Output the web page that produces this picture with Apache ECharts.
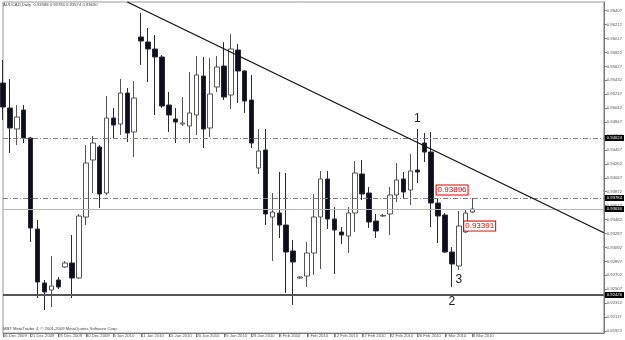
<!DOCTYPE html>
<html lang="en">
  <head>
    <meta charset="UTF-8" />
    <title>AUDCAD,Daily</title>
    <script src="https://cdn.jsdelivr.net/npm/echarts@6.0.0/dist/echarts.min.js"></script>
    <style>
      html, body { margin: 0; padding: 0; background: #fff; }
      #main { width: 625px; height: 340px; }
    </style>
  </head>
  <body>
    <div id="main"></div>
    <script>
      // daily bars (broker sends Sunday bars too)
      const dates = [
        "16 Dec 2009", "17 Dec 2009", "18 Dec 2009", "20 Dec 2009", "21 Dec 2009", "22 Dec 2009",
        "23 Dec 2009", "24 Dec 2009", "25 Dec 2009", "27 Dec 2009", "28 Dec 2009", "29 Dec 2009",
        "30 Dec 2009", "31 Dec 2009", "3 Jan 2010", "4 Jan 2010", "5 Jan 2010", "6 Jan 2010",
        "7 Jan 2010", "8 Jan 2010", "11 Jan 2010", "12 Jan 2010", "13 Jan 2010", "14 Jan 2010",
        "15 Jan 2010", "17 Jan 2010", "18 Jan 2010", "19 Jan 2010", "20 Jan 2010", "21 Jan 2010",
        "22 Jan 2010", "24 Jan 2010", "25 Jan 2010", "26 Jan 2010", "27 Jan 2010", "28 Jan 2010",
        "29 Jan 2010", "31 Jan 2010", "1 Feb 2010", "2 Feb 2010", "3 Feb 2010", "4 Feb 2010",
        "5 Feb 2010", "7 Feb 2010", "8 Feb 2010", "9 Feb 2010", "10 Feb 2010", "11 Feb 2010",
        "12 Feb 2010", "14 Feb 2010", "15 Feb 2010", "16 Feb 2010", "17 Feb 2010", "18 Feb 2010",
        "19 Feb 2010", "21 Feb 2010", "22 Feb 2010", "23 Feb 2010", "24 Feb 2010", "25 Feb 2010",
        "26 Feb 2010", "28 Feb 2010", "1 Mar 2010", "2 Mar 2010", "3 Mar 2010", "4 Mar 2010",
        "5 Mar 2010", "7 Mar 2010", "8 Mar 2010"
      ];

      const opens = [
        0.95394, 0.95044, 0.9475, 0.95016, 0.94624, 0.9335, 0.92594, 0.92496, 0.92636, 0.92818,
        0.92874, 0.92664, 0.93518, 0.94316, 0.94498, 0.93854, 0.94904, 0.9482, 0.95254, 0.94708,
        0.96038, 0.95968, 0.9587, 0.95758, 0.95086, 0.9489, 0.9482, 0.94792, 0.94946, 0.95492,
        0.94764, 0.95338, 0.95632, 0.95226, 0.95856, 0.95562, 0.95156, 0.94204, 0.94456, 0.93518,
        0.93574, 0.93406, 0.93042, 0.92664, 0.92692, 0.93014, 0.93518, 0.9405, 0.9349, 0.93308,
        0.93252, 0.93574, 0.9412, 0.93854, 0.93462, 0.93532, 0.9356, 0.93826, 0.9405, 0.93896,
        0.94176, 0.94554, 0.94428, 0.93714, 0.93546, 0.93028, 0.92832, 0.93308, 0.93588
      ];
      const closes = [
        0.95058, 0.94764, 0.94918, 0.94624, 0.93364, 0.92608, 0.92468, 0.92552, 0.92538, 0.92874,
        0.92664, 0.93532, 0.94274, 0.94554, 0.9384, 0.94904, 0.94806, 0.95254, 0.94694, 0.95184,
        0.95982, 0.9587, 0.95758, 0.95072, 0.94946, 0.94848, 0.94834, 0.94974, 0.95506, 0.9475,
        0.9524, 0.95618, 0.95198, 0.9587, 0.95562, 0.95142, 0.94554, 0.94442, 0.9356, 0.93588,
        0.93406, 0.93028, 0.92888, 0.92678, 0.93014, 0.93518, 0.9405, 0.9349, 0.93336, 0.93266,
        0.93574, 0.94134, 0.9384, 0.93448, 0.93322, 0.9354, 0.93826, 0.94036, 0.93868, 0.94162,
        0.94148, 0.94428, 0.93714, 0.93532, 0.93028, 0.9286, 0.93392, 0.93574, 0.9363
      ];
      const lows = [
        0.94876, 0.94414, 0.94526, 0.94554, 0.93168, 0.92384, 0.92216, 0.92258, 0.9251, 0.92804,
        0.92384, 0.9265, 0.93406, 0.93854, 0.93644, 0.93826, 0.94624, 0.94666, 0.94568, 0.94358,
        0.95646, 0.95408, 0.94946, 0.95044, 0.94708, 0.94554, 0.94792, 0.94554, 0.94666, 0.94484,
        0.94638, 0.95268, 0.95156, 0.9503, 0.95114, 0.94974, 0.94484, 0.9412, 0.93406, 0.92902,
        0.93224, 0.92454, 0.92286, 0.9265, 0.92538, 0.92706, 0.9279, 0.9335, 0.9272, 0.9314,
        0.93014, 0.93308, 0.93756, 0.93364, 0.93224, 0.93518, 0.93266, 0.93728, 0.9377, 0.93686,
        0.93994, 0.94288, 0.93378, 0.93154, 0.93014, 0.92538, 0.92776, 0.93294, 0.93574
      ];
      const highs = [
        0.95716, 0.9545, 0.95086, 0.95086, 0.94638, 0.93476, 0.92636, 0.92972, 0.92678, 0.92902,
        0.93266, 0.9356, 0.94526, 0.94652, 0.94526, 0.95212, 0.95044, 0.9545, 0.95324, 0.95422,
        0.96374, 0.96164, 0.96066, 0.95786, 0.95268, 0.95044, 0.95198, 0.95548, 0.95772, 0.95758,
        0.95744, 0.95772, 0.95968, 0.9608, 0.9594, 0.95576, 0.95506, 0.9475, 0.9475, 0.93854,
        0.94148, 0.94134, 0.93196, 0.92692, 0.93168, 0.9384, 0.94162, 0.94162, 0.93658, 0.93378,
        0.93658, 0.94302, 0.94316, 0.93938, 0.9356, 0.9356, 0.93938, 0.94274, 0.94148, 0.944,
        0.9475, 0.94694, 0.94708, 0.9377, 0.93574, 0.93098, 0.93602, 0.93616, 0.93784
      ];

      // right price scale labels
      const yTicks = [
        0.91922, 0.92117, 0.92312, 0.92507, 0.92702, 0.92897, 0.93092, 0.93287, 0.93482, 0.93677,
        0.93872, 0.94067, 0.94262, 0.94457, 0.94652, 0.94847, 0.95042, 0.95237, 0.95432, 0.95627,
        0.95822, 0.96017, 0.96212, 0.96407
      ];

      // horizontal levels: two dash-dot, bid line, support
      const levels = [0.94624, 0.93784, 0.9363, 0.92426];
      const levelStyles = [
        { color: "#808080", type: [5, 2, 1, 2], width: 1 },
        { color: "#808080", type: [5, 2, 1, 2], width: 1 },
        { color: "#b8b8b8", type: "solid", width: 1 },
        { color: "#555", type: "solid", width: 2 },
      ];

      // resistance trend line [bar index, price]
      const trendStart = [18, 0.96528];
      const trendEnd = [87, 0.93297];

      // wave counts and price tags [bar index, price]
      const waveNames = ["1", "2", "3"];
      const waveCoords = [[60, 0.9489], [65, 0.92335], [66, 0.92636]];
      const tagPrices = [0.93896, 0.93391];
      const tagBars = [63, 67];

      const emptyBars = 19;
      const font = "Liberation Sans, Arial, sans-serif";

      let cats = dates.concat(new Array(emptyBars).fill(""));
      let candles = opens.map((o, i) => [o, closes[i], lows[i], highs[i]]);
      let last = candles.length - 1;
      let header =
        "AUDCAD,Daily  " +
        [opens[last], highs[last], lows[last], closes[last]].map((v) => v.toFixed(5)).join(" ");

      let lineData = levels.map((v, i) => ({
        yAxis: v,
        lineStyle: levelStyles[i],
        label: {
          show: true,
          position: "end",
          distance: 1,
          formatter: (p) => p.value.toFixed(5),
          backgroundColor: "#000",
          color: "#fff",
          fontSize: 4.2,
          fontFamily: font,
          padding: [1, 2],
        },
      }));
      lineData.push([
        { coord: trendStart, lineStyle: { color: "#111", width: 1.3, type: "solid" }, label: { show: false } },
        { coord: trendEnd },
      ]);

      let pointData = waveNames.map((n, i) => ({
        name: n,
        coord: waveCoords[i],
        label: { show: true, position: "inside", formatter: "{b}", fontSize: 12, color: "#222", fontFamily: font },
      }));
      tagPrices.forEach((v, i) => {
        pointData.push({
          name: v.toFixed(5),
          coord: [tagBars[i], v],
          label: {
            show: true,
            position: "right",
            distance: 0,
            offset: [-2, 0],
            formatter: "{b}",
            fontSize: 8,
            fontFamily: font,
            color: "#e00000",
            backgroundColor: "#fff",
            borderColor: "#e00000",
            borderWidth: 1,
            padding: [1, 1, 0, 1],
          },
        });
      });

      let myChart = echarts.init(document.getElementById("main"));
      let options = {
        animation: false,
        backgroundColor: "#fff",
        grid: { left: 2, right: 18, top: 2, bottom: 7, show: true, borderColor: "#999", borderWidth: 1 },
        graphic: [
          { type: "text", left: 3, top: 3, style: { text: header, fontSize: 4.2, fontFamily: font, fill: "#444" } },
          {
            type: "text",
            left: 3,
            top: 327,
            style: { text: "MBT MetaTrader 4, \u00a9 2001-2009 MetaQuotes Software Corp.", fontSize: 4.2, fontFamily: font, fill: "#444" },
          },
        ],
        xAxis: {
          type: "category",
          data: cats,
          boundaryGap: false,
          axisLine: { lineStyle: { color: "#777" } },
          axisTick: {
            show: true,
            interval: (i, v) => i % 4 === 0 && v !== "",
            length: 4,
            lineStyle: { color: "#777" },
          },
          axisLabel: { interval: 3, align: "left", margin: 1, fontSize: 4.2, fontFamily: font, color: "#555" },
          splitLine: { show: false },
        },
        yAxis: {
          type: "value",
          position: "right",
          min: 0.91894,
          max: 0.96528,
          axisLine: { show: true, lineStyle: { color: "#777" } },
          axisTick: { show: true, customValues: yTicks, length: 3, lineStyle: { color: "#777" } },
          axisLabel: {
            customValues: yTicks,
            fontSize: 4.2,
            fontFamily: font,
            color: "#555",
            margin: 3,
            formatter: (v) => v.toFixed(5),
          },
          splitLine: { show: false },
        },
        series: [
          {
            type: "candlestick",
            data: candles,
            barWidth: 5,
            clip: false,
            itemStyle: {
              color: "#fff",
              color0: "#0d0d20",
              borderColor: "#555",
              borderColor0: "#2a2a33",
              borderWidth: 1,
            },
            markLine: { silent: true, precision: 5, symbol: ["none", "none"], data: lineData },
            markPoint: {
              silent: true,
              symbol: "circle",
              symbolSize: 1,
              itemStyle: { color: "rgba(0,0,0,0)" },
              data: pointData,
            },
          },
        ],
      };
      myChart.setOption(options);
    </script>
  </body>
</html>
